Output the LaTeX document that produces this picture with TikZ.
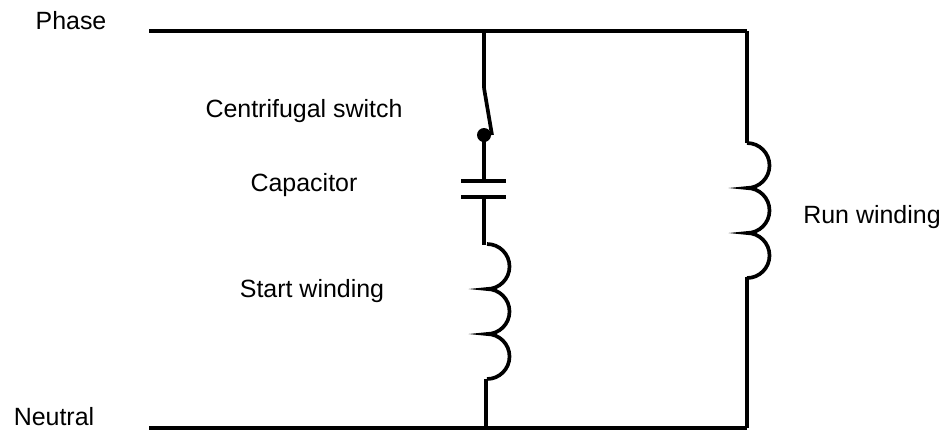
\documentclass[tikz,border=0pt]{standalone}
\usepackage{fontspec}
\setmainfont{Liberation Sans}
\usepackage{tikz}
\tikzset{wire/.style={line width=1.05pt},
label/.style={font=\fontsize{7.1}{8.5}\selectfont,inner sep=0pt}}

\begin{document}
\begin{tikzpicture}
\useasboundingbox (0,0) rectangle (9.45,4.32);
\node[label] (Phase) at (0.71,4.11) {Phase};
\node[label] (Neutral) at (0.54,0.15) {Neutral};
\node[label] (CS) at (3.04,3.21) {Centrifugal switch};
\node[label] (Cap) at (3.04,2.47) {Capacitor};
\node[label] (SW) at (3.12,1.41) {Start winding};
\node[label] (RW) at (8.72,2.15) {Run winding};
\coordinate (P1) at (1.49,4.01);
\coordinate (P2) at (4.84,4.01);
\coordinate (P3) at (7.47,4.01);
\coordinate (N1) at (1.49,0.04);
\coordinate (N2) at (4.86,0.04);
\coordinate (N3) at (7.47,0.04);
\coordinate (S1) at (4.84,3.44);
\coordinate (S2) at (4.92,2.97);
\coordinate (D) at (4.84,2.97);
\coordinate (C1) at (4.84,2.51);
\coordinate (C1l) at (4.61,2.51);
\coordinate (C1r) at (5.06,2.51);
\coordinate (C2) at (4.84,2.35);
\coordinate (C2l) at (4.61,2.35);
\coordinate (C2r) at (5.06,2.35);
\coordinate (W1) at (4.84,1.87);
\coordinate (L1) at (4.87,1.88);
\coordinate (L2) at (4.86,0.53);
\coordinate (R1) at (7.47,2.89);
\coordinate (R2) at (7.47,1.55);
\draw[wire] (P1) -- (P3);
\draw[wire] (N1) -- (N3);
\draw[wire] (P3) -- (R1);
\draw[wire] (R2) -- (N3);
\draw[wire] (P2) -- (S1);
\draw[wire] (S1) -- (S2);
\fill (D) circle (0.07);
\draw[wire] (D) -- (C1);
\draw[wire] (C1l) -- (C1r);
\draw[wire] (C2l) -- (C2r);
\draw[wire] (C2) -- (W1);
\draw[wire] (L2) -- (N2);
\draw[wire] (L1) arc (90:-90:0.225) arc (90:-90:0.225) arc (90:-90:0.225);
\draw[wire] (R1) arc (90:-90:0.225) arc (90:-90:0.225) arc (90:-90:0.225);
\end{tikzpicture}
\end{document}
